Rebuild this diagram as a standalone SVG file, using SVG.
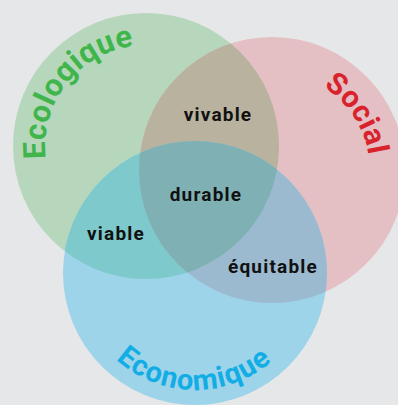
<svg xmlns="http://www.w3.org/2000/svg" width="398" height="405" viewBox="0 0 398 405">
<style>
.lbl{font-family:Roboto,"Open Sans","DejaVu Sans",sans-serif;font-weight:700;font-size:19px;letter-spacing:1.2px;fill:#111;text-anchor:middle}
.ttl{font-family:Roboto,"Open Sans","DejaVu Sans",sans-serif;font-weight:700;text-anchor:middle}
</style>
<defs>
<clipPath id="cg"><circle cx="146" cy="146" r="133"/></clipPath>
<clipPath id="cr"><circle cx="272" cy="170" r="133"/></clipPath>
<path id="pEco" d="M 83.82,225.59 A 101 101 0 0 1 208.18,66.41" fill="none"/>
<path id="pSoc" d="M 217.91,88.28 A 98 98 0 0 1 326.09,251.72" fill="none"/>
<path id="pEcn" d="M 78,272 A 117 117 0 0 0 312,274" fill="none"/>
</defs>
<rect width="398" height="405" fill="#e6e7e9"/>
<g id="ecologique">
<circle cx="146" cy="146" r="133" fill="#b6d7bb"/>
</g>
<g id="social">
<circle cx="272" cy="170" r="133" fill="#e4bfc3"/>
</g>
<g id="economique">
<circle cx="195" cy="273" r="132" fill="#9dd4ea"/>
</g>
<g id="vivable">
<circle cx="272" cy="170" r="133" fill="#b8b29f" clip-path="url(#cg)"/>
</g>
<g id="viable">
<circle cx="195" cy="273" r="132" fill="#7dc9cb" clip-path="url(#cg)"/>
</g>
<g id="equitable">
<circle cx="195" cy="273" r="132" fill="#9bb9cf" clip-path="url(#cr)"/>
</g>
<g id="durable">
<g clip-path="url(#cg)"><circle cx="195" cy="273" r="132" fill="#7fb1b4" clip-path="url(#cr)"/></g>
</g>
<g id="connectors"/>
<g id="titles">
<text class="ttl" font-size="31" letter-spacing="0.5" fill="#3fb54b"><textPath href="#pEco" startOffset="50%">Ecologique</textPath></text>
<text class="ttl" font-size="30" letter-spacing="0.3" fill="#d8232d"><textPath href="#pSoc" startOffset="50%">Social</textPath></text>
<text class="ttl" font-size="29" letter-spacing="1" fill="#13ade5"><textPath href="#pEcn" startOffset="50%">Economique</textPath></text>
</g>
<g id="labels">
<text class="lbl" x="218" y="121">vivable</text>
<text class="lbl" x="206" y="201">durable</text>
<text class="lbl" x="116" y="240">viable</text>
<text class="lbl" x="273" y="273">équitable</text>
</g>
</svg>
